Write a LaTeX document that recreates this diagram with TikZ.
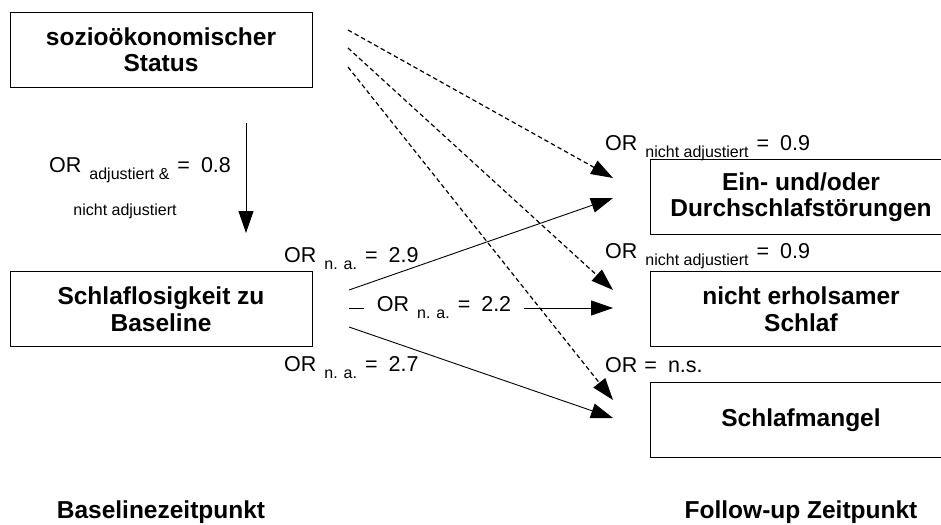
\documentclass[tikz,border=0pt]{standalone}
\usepackage{fontspec}
\setmainfont{Liberation Sans}
\usetikzlibrary{arrows.meta}
\newcommand{\orsub}[1]{\raisebox{-7pt}{\fontsize{16}{18}\selectfont #1}}
\newcommand{\orlbl}[2]{OR\hspace{8pt}\orsub{#1}\hspace{8pt}=\hspace{11pt}#2}

\begin{document}
\begin{tikzpicture}[x=1pt,y=-1pt,
  box/.style={draw,line width=0.9pt,minimum width=302pt,minimum height=75pt,inner sep=0pt,align=center,font=\bfseries\fontsize{24.5}{26.5}\selectfont},
  lbl/.style={inner sep=0pt,anchor=base west,font=\fontsize{21.5}{24}\selectfont},
  zeit/.style={inner sep=0pt,anchor=base,font=\bfseries\fontsize{24.5}{26.5}\selectfont},
  arr/.style={line width=0.9pt,-{Triangle[length=22pt,width=15pt]}},
  dasharr/.style={arr,line width=1.2pt,dash pattern=on 4.5pt off 3pt}
]
  \useasboundingbox (0,0) rectangle (941,524);
  \clip (0,0) rectangle (941,524);

  % Baseline
  \node[box] (ses) at (161,49.5) {sozioökonomischer\\Status};
  \node[box] (schlaf) at (161,309) {Schlaflosigkeit zu\\Baseline};
  % Follow-up
  \node[box] (ein) at (801,197) {Ein- und/oder\\Durchschlafstörungen};
  \node[box] (erh) at (801,309) {nicht erholsamer\\Schlaf};
  \node[box] (mangel) at (801,420) {Schlafmangel};

  \node[zeit] (tBase) at (161,518) {Baselinezeitpunkt};
  \node[zeit] (tFollow) at (801,518) {Follow-up Zeitpunkt};

  % arrow ends
  \coordinate (v1) at (246,123);
  \coordinate (v2) at (246,233);
  \coordinate (a1) at (348,30);
  \coordinate (a2) at (348,48);
  \coordinate (a3) at (348,67);
  \coordinate (b1) at (349,290);
  \coordinate (b2) at (349,308);
  \coordinate (b3) at (349,327);
  \coordinate (tEin1) at (613,178);
  \coordinate (tEin2) at (613,198);
  \coordinate (tErh1) at (613,290);
  \coordinate (tErh2) at (613,308);
  \coordinate (tMan1) at (613,400);
  \coordinate (tMan2) at (613,418);

  \draw[arr] (v1) -- (v2);
  \node[lbl] (orSes) at (49,172) {\orlbl{adjustiert \&}{0.8}};
  \node[inner sep=0pt,anchor=base,font=\fontsize{16}{18}\selectfont] (orSesB) at (125,215) {nicht adjustiert};

  \foreach \s/\t in {a1/tEin1,a2/tErh1,a3/tMan1}
    \draw[dasharr] (\s) -- (\t);
  \draw[arr] (b1) -- (tEin2);
  \draw[arr] (b3) -- (tMan2);
  \draw[arr] (b2) -- node[lbl,anchor=center,pos=0.36,fill=white,inner xsep=13pt,inner ysep=3pt] (orMid) {\orlbl{n. a.}{2.2}} (tErh2);

  \node[lbl] (orEin) at (284,262) {\orlbl{n. a.}{2.9}};
  \node[lbl] (orMan) at (284,371) {\orlbl{n. a.}{2.7}};
  \node[lbl] (orSesEin) at (605,150) {\orlbl{nicht adjustiert}{0.9}};
  \node[lbl] (orSesErh) at (605,258) {\orlbl{nicht adjustiert}{0.9}};
  \node[lbl] (orSesMan) at (605,372) {OR\hspace{7pt}=\hspace{11pt}n.s.};
\end{tikzpicture}
\end{document}
